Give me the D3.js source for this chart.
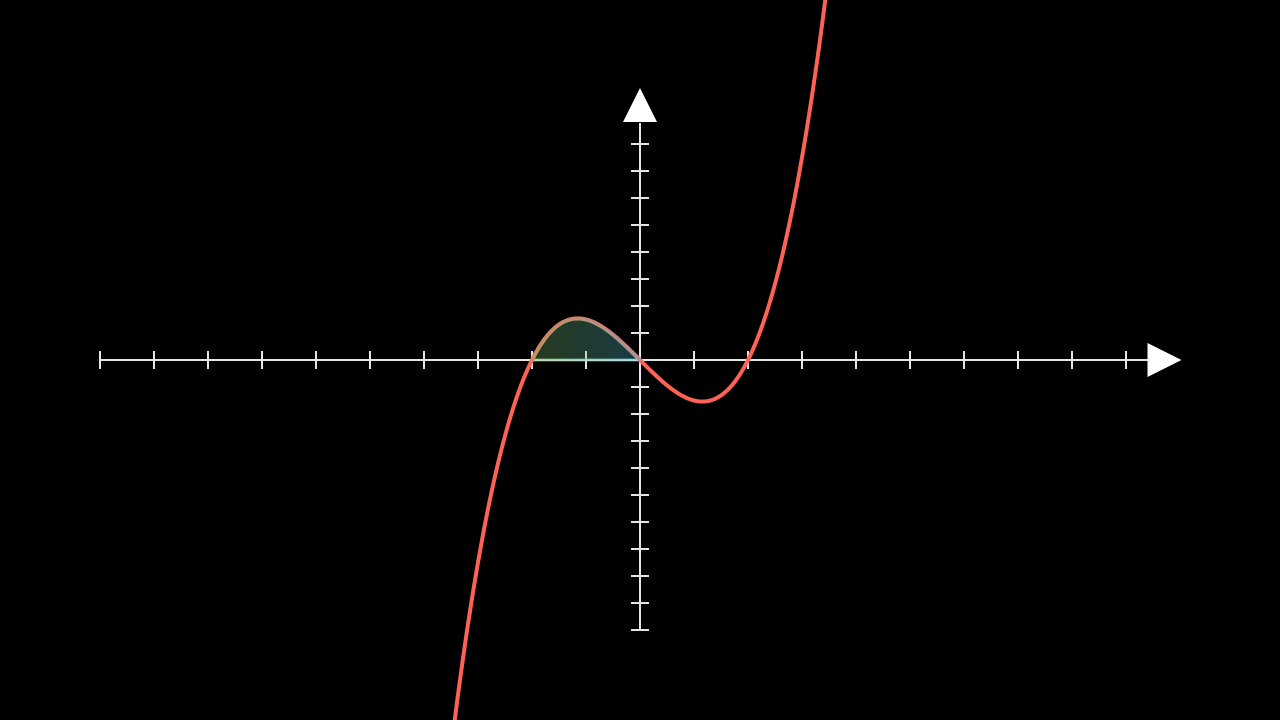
<!DOCTYPE html>
<html>
<head>
<meta charset="utf-8">
<script src="https://cdn.jsdelivr.net/npm/d3@7"></script>
<style>
  html, body { margin: 0; padding: 0; background: #000; }
  svg { display: block; }
</style>
</head>
<body>
<svg id="chart" width="1280" height="720"></svg>
<script>
// ---- data ----
const xDomain = [-10, 10];
const yDomain = [-10, 10];
const xTicks = [-10, -9, -8, -7, -6, -5, -4, -3, -2, -1, 1, 2, 3, 4, 5, 6, 7, 8, 9];
const yTicks = [-10, -9, -8, -7, -6, -5, -4, -3, -2, -1, 1, 2, 3, 4, 5, 6, 7, 8];
// cubic coefficients: y = a x^3 + b x^2 + c x + d (roots at -2, 0, 2)
const coefficients = [0.5, 0, -2, 0];
const plotRange = [-3.6, 3.6];
const areaRange = [-2, 0];
const areaColors = ["#83C167", "#58C4DD"];

// ---- drawing ----
const svg = d3.select("#chart");
const W = 1280, H = 720;
svg.append("rect").attr("width", W).attr("height", H).attr("fill", "#000");

const x = d3.scaleLinear().domain(xDomain).range([100, 1180]);
const y = d3.scaleLinear().domain(yDomain).range([630, 90]);

const f = t => coefficients[0] * t * t * t + coefficients[1] * t * t + coefficients[2] * t + coefficients[3];

const axisColor = "#e4e4e4";
const tickLen = 9;
const arrow = 33;

// x axis
svg.append("line")
  .attr("x1", x(xDomain[0])).attr("x2", x(xDomain[1]) - arrow + 1)
  .attr("y1", y(0)).attr("y2", y(0))
  .attr("stroke", axisColor).attr("stroke-width", 2);
svg.selectAll(".xt").data(xTicks).enter().append("line")
  .attr("x1", d => x(d)).attr("x2", d => x(d))
  .attr("y1", y(0) - tickLen).attr("y2", y(0) + tickLen)
  .attr("stroke", axisColor).attr("stroke-width", 2);

// y axis
svg.append("line")
  .attr("x1", x(0)).attr("x2", x(0))
  .attr("y1", y(yDomain[0])).attr("y2", y(yDomain[1]) + arrow)
  .attr("stroke", axisColor).attr("stroke-width", 2);
svg.selectAll(".yt").data(yTicks).enter().append("line")
  .attr("x1", x(0) - tickLen).attr("x2", x(0) + tickLen)
  .attr("y1", d => y(d)).attr("y2", d => y(d))
  .attr("stroke", axisColor).attr("stroke-width", 2);

// arrows
const xe = x(xDomain[1]) + 1.5, ye = y(0);
svg.append("path")
  .attr("d", `M${xe},${ye} L${xe - arrow - 1},${ye - 17} L${xe - arrow - 1},${ye + 17} Z`)
  .attr("fill", "#fff");
const yx = x(0), yt = y(yDomain[1]) - 2;
svg.append("path")
  .attr("d", `M${yx},${yt} L${yx - 17},${yt + arrow + 1} L${yx + 17},${yt + arrow + 1} Z`)
  .attr("fill", "#fff");

// curve
const samples = d3.range(plotRange[0], plotRange[1] + 1e-9, 0.01);
const line = d3.line().x(d => x(d)).y(d => y(f(d)));
svg.append("path")
  .datum(samples)
  .attr("d", line)
  .attr("fill", "none")
  .attr("stroke", "#FC6255")
  .attr("stroke-width", 4);

// area gradient
const defs = svg.append("defs");
const grad = defs.append("linearGradient")
  .attr("id", "areaGrad")
  .attr("gradientUnits", "userSpaceOnUse")
  .attr("x1", x(areaRange[0])).attr("x2", x(areaRange[1]))
  .attr("y1", 0).attr("y2", 0);
grad.append("stop").attr("offset", "0%").attr("stop-color", areaColors[0]);
grad.append("stop").attr("offset", "100%").attr("stop-color", areaColors[1]);

const areaSamples = d3.range(areaRange[0], areaRange[1] + 1e-9, 0.01);
const area = d3.area().x(d => x(d)).y0(y(0)).y1(d => y(f(d)));
svg.append("path")
  .datum(areaSamples)
  .attr("d", area)
  .attr("fill", "url(#areaGrad)")
  .attr("fill-opacity", 0.3)
  .attr("stroke", "url(#areaGrad)")
  .attr("stroke-opacity", 0.35)
  .attr("stroke-width", 4);
</script>
</body>
</html>
